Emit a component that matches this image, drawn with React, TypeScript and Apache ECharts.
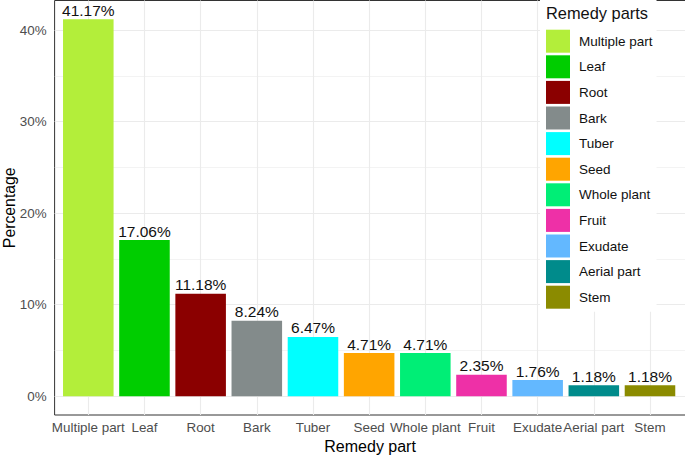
import React, { useEffect, useRef } from "react";
import * as echarts from "echarts";

const categories = [
  "Multiple part", "Leaf", "Root", "Bark", "Tuber", "Seed",
  "Whole plant", "Fruit", "Exudate", "Aerial part", "Stem",
];
const values = [41.17, 17.06, 11.18, 8.24, 6.47, 4.71, 4.71, 2.35, 1.76, 1.18, 1.18];
const colors = [
  "#B3EE3A", "#00CD00", "#8B0000", "#838B8B", "#00FFFF", "#FFA500",
  "#00EE76", "#EE30A7", "#63B8FF", "#008B8B", "#8B8B00",
];
const yMajorTicks = [0, 10, 20, 30, 40];
const yMinorTicks = [5, 15, 25, 35];
const xIndices = categories.map((_, i) => i);

const FONT = "'Liberation Sans', Arial, sans-serif";

export default function App() {
  const ref = useRef<HTMLDivElement>(null);
  useEffect(() => {
    document.body.style.margin = "0";
    const chart = echarts.init(ref.current!, null, { renderer: "svg" });
    const yMax = values[0] * 1.05;
    const yMin = -values[0] * 0.05;

    const gridSeries: any = {
      type: "line",
      data: [],
      z: 1,
      silent: true,
      markLine: {
        silent: true,
        z: 1,
        symbol: ["none", "none"],
        label: { show: false },
        emphasis: { disabled: true },
        animation: false,
        data: [
          ...yMinorTicks.map((t) => ({ yAxis: t, lineStyle: { color: "#EBEBEB", width: 0.6, type: "solid" } })),
          ...yMajorTicks.map((t) => ({ yAxis: t, lineStyle: { color: "#EBEBEB", width: 1.1, type: "solid" } })),
          ...xIndices.map((t) => ({ xAxis: t, lineStyle: { color: "#EBEBEB", width: 1.1, type: "solid" } })),
        ],
      },
    };

    const barSeries = categories.map((name, i) => ({
      type: "bar",
      name,
      z: 3,
      barWidth: "90%",
      barGap: "-100%",
      itemStyle: { color: colors[i] },
      label: {
        show: true,
        position: "top",
        distance: 1,
        color: "#111",
        fontFamily: FONT,
        fontSize: 15.5,
        formatter: (p: any) => `${p.value[1].toFixed(2)}%`,
      },
      data: [[i, values[i]]],
    }));

    chart.setOption({
      animation: false,
      backgroundColor: "#fff",
      grid: {
        left: 54.6,
        top: 0.5,
        width: 631,
        height: 414.5,
        containLabel: false,
        outerBoundsMode: "none",
        show: true,
        borderColor: "#333333",
        borderWidth: 1,
        backgroundColor: "#fff",
      },
      xAxis: {
        type: "value",
        min: -0.6,
        max: 10.634,
        name: "Remedy part",
        nameLocation: "middle",
        nameGap: 23,
        nameMoveOverlap: false,
        nameTextStyle: { color: "#000", fontSize: 16, fontFamily: FONT },
        axisLine: { show: false },
        splitLine: { show: false },
        axisTick: { show: true, length: 3, customValues: xIndices, lineStyle: { color: "#333333" } },
        axisLabel: {
          customValues: xIndices,
          margin: 6,
          color: "#4D4D4D",
          fontSize: 13.4,
          fontFamily: FONT,
          hideOverlap: false,
          formatter: (v: number) => categories[Math.round(v)] ?? "",
        },
      },
      yAxis: {
        type: "value",
        min: yMin,
        max: yMax,
        name: "Percentage",
        nameLocation: "middle",
        nameGap: 37,
        nameMoveOverlap: false,
        nameTextStyle: { color: "#000", fontSize: 15.8, fontFamily: FONT },
        axisLine: { show: false },
        splitLine: { show: false },
        axisTick: { show: true, length: 3, customValues: yMajorTicks, lineStyle: { color: "#333333" } },
        axisLabel: {
          customValues: yMajorTicks,
          margin: 8,
          color: "#4D4D4D",
          fontSize: 13.4,
          fontFamily: FONT,
          formatter: (v: number) => `${v}%`,
        },
      },
      legend: {
        orient: "vertical",
        left: 540,
        top: 0,
        z: 10,
        padding: [29.7, 4, 3, 6],
        backgroundColor: "#fff",
        itemWidth: 24,
        itemHeight: 23,
        itemGap: 2.6,
        icon: "rect",
        selectedMode: false,
        data: categories,
        textStyle: { color: "#111", fontSize: 13.5, fontFamily: FONT, padding: [0, 0, 0, 4] },
      },
      graphic: [
        {
          type: "text",
          left: 546,
          top: 5,
          z: 100,
          style: { text: "Remedy parts", fill: "#111", fontSize: 16.4, fontFamily: FONT },
        },
      ],
      series: [gridSeries, ...barSeries],
    });
    return () => chart.dispose();
  }, []);
  return <div ref={ref} style={{ width: 685, height: 457, position: "fixed", left: 0, top: 0 }} />;
}
